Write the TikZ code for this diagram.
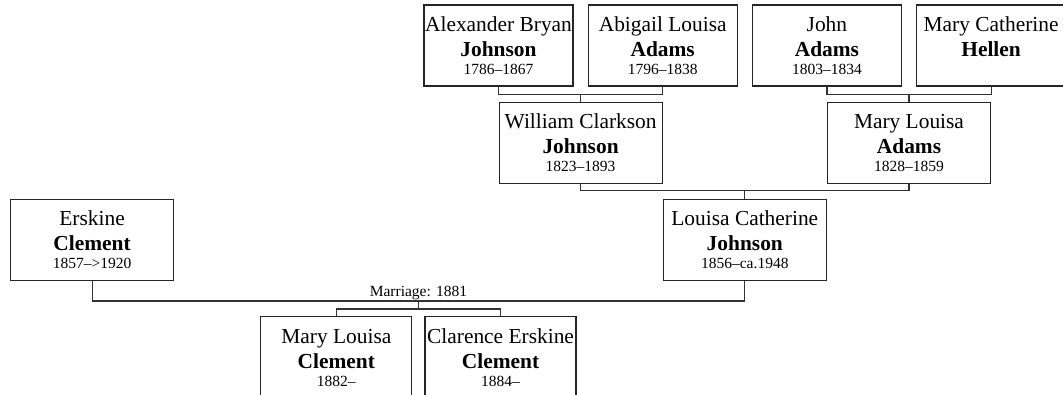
\documentclass[tikz,border=0pt]{standalone}
\usepackage{fontspec}
\setmainfont{Liberation Serif}
\usetikzlibrary{positioning, calc}

\newcommand{\datefont}{\fontsize{15.5}{18}\selectfont}
\newcommand{\card}[3]{#1\\\textbf{#2}\\[-7pt]{\datefont #3}}

\begin{document}
\begin{tikzpicture}[
    x=1pt, y=1pt,
    person/.style = {
      draw=black!85, line width=1.2pt,
      minimum width=149pt, minimum height=81pt,
      inner sep=0pt, align=center,
      font=\fontsize{21.4}{25}\selectfont,
      fill=white
    },
    wide/.style      = {minimum width=163pt},
    child/.style     = {minimum width=151pt, minimum height=83pt},
    link/.style      = {draw=black!80, line width=1.2pt},
    smalltext/.style = {font=\datefont, inner sep=1pt}
  ]

    \useasboundingbox (0,0) rectangle (1063,-394);

    % great-grandparents
    \node[person] (alexander) at (498.5,-45.5)
      {\card{Alexander Bryan}{Johnson}{1786--1867}};
    \node[person, right=14pt of alexander] (abigail)
      {\card{Abigail Louisa}{Adams}{1796--1838}};
    \node[person, right=14pt of abigail] (john)
      {\card{John}{Adams}{1803--1834}};
    \node[person, right=14pt of john] (hellen)
      {\card{Mary Catherine}{Hellen}{\phantom{0}}};

    % grandparents
    \coordinate (wjbar) at ($(alexander.south)!0.5!(abigail.south)+(0,-8)$);
    \node[person, wide, below=7pt of wjbar] (william)
      {\card{William Clarkson}{Johnson}{1823--1893}};
    \draw[link] (alexander.south) |- (wjbar) -| (abigail.south);
    \draw[link] (wjbar) -- (william.north);

    \coordinate (mabar) at ($(john.south)!0.5!(hellen.south)+(0,-8)$);
    \node[person, wide, below=7pt of mabar] (marylouisa)
      {\card{Mary Louisa}{Adams}{1828--1859}};
    \draw[link] (john.south) |- (mabar) -| (hellen.south);
    \draw[link] (mabar) -- (marylouisa.north);

    % couple
    \coordinate (lcbar) at ($(william.south)!0.5!(marylouisa.south)+(0,-7)$);
    \node[person, wide, below=8pt of lcbar] (louisa)
      {\card{Louisa Catherine}{Johnson}{1856--ca.1948}};
    \draw[link] (william.south) |- (lcbar) -| (marylouisa.south);
    \draw[link] (lcbar) -- (louisa.north);

    \node[person, wide, left=488.5pt of louisa] (erskine)
      {\card{Erskine}{Clement}{1857--{>}1920}};

    \coordinate (marriage) at ($(erskine.south)!0.5!(louisa.south)+(0,-20)$);
    \draw[link] (erskine.south) |- (marriage) -| (louisa.south);
    \node[smalltext, above] (marriagelabel) at (marriage) {Marriage: 1881};

    % children
    \coordinate[below=8pt of marriage] (kidsbar);
    \draw[link] (marriage) -- (kidsbar);
    \node[person, child, below left=7pt and 6pt of kidsbar] (mlclement)
      {\card{Mary Louisa}{Clement}{1882--}};
    \node[person, child, right=12pt of mlclement] (clarence)
      {\card{Clarence Erskine}{Clement}{1884--}};
    \draw[link] (mlclement.north) |- (kidsbar) -| (clarence.north);

  \end{tikzpicture}
\end{document}
